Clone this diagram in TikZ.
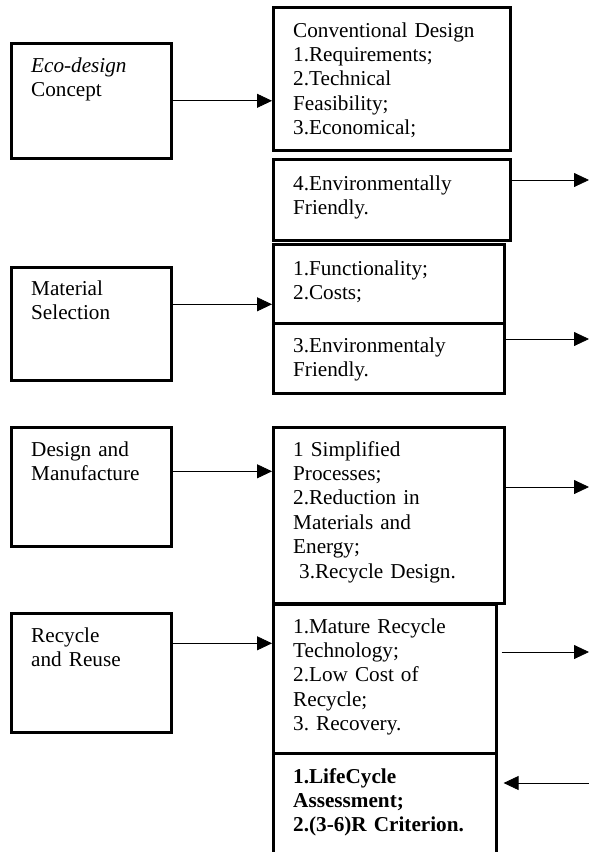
\documentclass[tikz,border=0pt]{standalone}
\usepackage{fontspec}
\setmainfont{Liberation Serif}
\usetikzlibrary{arrows.meta}
\frenchspacing

\begin{document}
\begin{tikzpicture}[x=1pt, y=-1pt,
    box/.style={draw, line width=2.6pt, anchor=north west, inner sep=0pt},
    txt/.style={anchor=base west, inner sep=0pt, align=left, text width=205pt,
      font=\fontsize{21.2}{24.4}\selectfont},
    arr/.style={-{Triangle[length=15pt, width=14pt]}, line width=0.8pt}]

  \useasboundingbox (0,0) rectangle (589,852);

  %% ================= LEFT COLUMN =================

  \node[box, minimum width=160, minimum height=115] (eco) at (10,42) {};
  \node[txt] (ecot) at (31,72) {\textit{Eco-design}\\Concept};

  \node[box, minimum width=160, minimum height=113] (mat) at (10,266) {};
  \node[txt] (matt) at (31,295) {Material\\Selection};

  \node[box, minimum width=160, minimum height=119] (des) at (10,426) {};
  \node[txt] (dest) at (31,456) {Design and\\Manufacture};

  \node[box, minimum width=160, minimum height=119] (rec) at (10,612) {};
  \node[txt] (rect) at (31,642) {Recycle\\and Reuse};

  %% ================= RIGHT COLUMN ================

  % Eco-design concept
  \node[box, minimum width=237, minimum height=143] (conv) at (272,6) {};
  \node[txt] (convt) at (293,37)
    {Conventional Design\\1.Requirements;\\2.Technical\\Feasibility;\\3.Economical;};
  \node[box, minimum width=237, minimum height=81] (env) at (272,158) {};
  \node[txt] (envt) at (293,190) {4.Environmentally\\Friendly.};

  % Material selection
  \node[box, minimum width=231, minimum height=79] (fun) at (272,243) {};
  \node[txt] (funt) at (293,275) {1.Functionality;\\2.Costs;};
  \node[box, minimum width=231, minimum height=70] (envb) at (272,322) {};
  \node[txt] (envbt) at (293,352) {3.Environmentaly\\Friendly.};

  % Design and manufacture
  \node[box, minimum width=231, minimum height=176] (simp) at (272,426) {};
  \node[txt] (simpt) at (293,456)
    {1 Simplified\\Processes;\\2.Reduction in\\Materials and\\Energy;\\\hspace{6pt}3.Recycle Design.};

  % Recycle and reuse
  \node[box, minimum width=223, minimum height=149] (mature) at (272,603) {};
  \node[txt] (maturet) at (293,633)
    {1.Mature Recycle\\Technology;\\2.Low Cost of\\Recycle;\\3. Recovery.};
  \node[box, minimum width=223, minimum height=130] (life) at (272,752) {};
  \node[txt, font=\fontsize{21.2}{24.4}\selectfont\bfseries] (lifet) at (293,783)
    {1.LifeCycle\\Assessment;\\2.(3-6)R Criterion.};

  %% ================= CONNECTORS ==================

  \draw[arr] (eco.east) coordinate (a1) -- (a1 -| conv.west);
  \draw[arr] ([yshift=19.5pt]mat.east) coordinate (a2) -- (a2 -| fun.west);
  \draw[arr] ([yshift=15.5pt]des.east) coordinate (a3) -- (a3 -| simp.west);
  \draw[arr] ([yshift=29.5pt]rec.east) coordinate (a4) -- (a4 -| mature.west);

  % free ends at the right margin
  \coordinate (o1) at (589,180);
  \coordinate (o2) at (589,339);
  \coordinate (o3) at (589,487);
  \coordinate (o4) at (589,652);
  \coordinate (i1) at (589,783);

  \draw[arr] (env.east |- o1) -- (o1);
  \draw[arr] (envb.east |- o2) -- (o2);
  \draw[arr] (simp.east |- o3) -- (o3);
  \draw[arr, shorten <=4pt] (mature.east |- o4) -- (o4);
  \draw[arr, shorten >=6pt] (i1) -- (i1 -| life.east);

\end{tikzpicture}
\end{document}
